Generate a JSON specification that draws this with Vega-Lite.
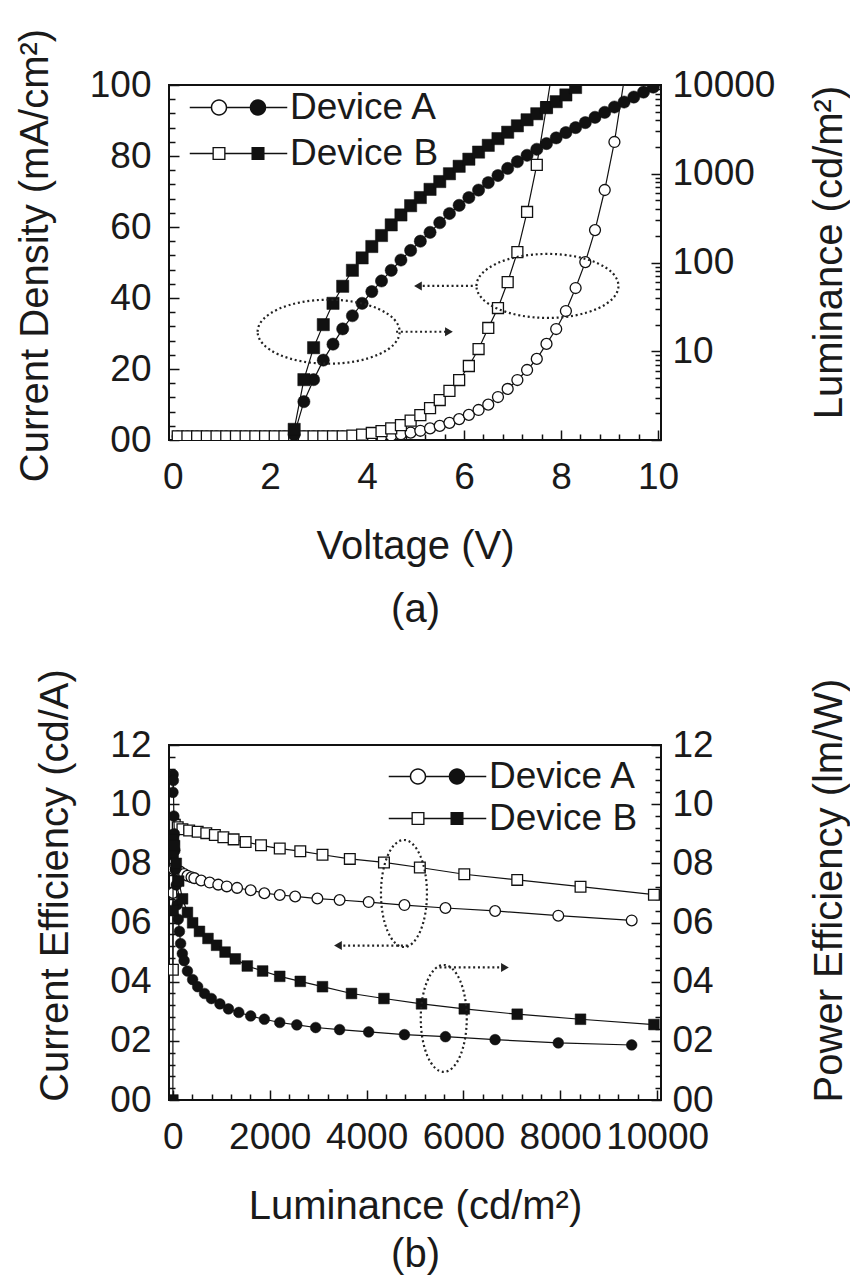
{
  "$schema": "https://vega.github.io/schema/vega-lite/v6.json",
  "background": "white",
  "padding": {"left": 14, "top": 27, "right": 0, "bottom": 0},
  "spacing": 37,
  "config": {
    "view": {"stroke": "#111", "strokeWidth": 2},
    "font": "Liberation Sans",
    "axis": {"grid": false, "domain": false, "labelFont": "Liberation Sans", "labelFontSize": 37, "labelColor": "#1a1a1a", "titleFont": "Liberation Sans", "titleFontSize": 40, "titleFontWeight": "normal", "titleColor": "#1a1a1a", "tickColor": "#111", "tickWidth": 1.5, "labelOverlap": false, "labelBound": false, "labelFlush": false}
  },
  "datasets": {
    "jv": [
      {"device": "Device A", "V": 2.5, "J": 1.5}, {"device": "Device A", "V": 2.7, "J": 10.8}, {"device": "Device A", "V": 2.9, "J": 17}, {"device": "Device A", "V": 3.1, "J": 22.5}, {"device": "Device A", "V": 3.3, "J": 27}, {"device": "Device A", "V": 3.5, "J": 31.3}, {"device": "Device A", "V": 3.7, "J": 35}, {"device": "Device A", "V": 3.9, "J": 38.5}, {"device": "Device A", "V": 4.1, "J": 41.8}, {"device": "Device A", "V": 4.3, "J": 44.8}, {"device": "Device A", "V": 4.5, "J": 47.8}, {"device": "Device A", "V": 4.7, "J": 50.7}, {"device": "Device A", "V": 4.9, "J": 53.4}, {"device": "Device A", "V": 5.1, "J": 56}, {"device": "Device A", "V": 5.3, "J": 58.5}, {"device": "Device A", "V": 5.5, "J": 61.2}, {"device": "Device A", "V": 5.7, "J": 63.8}, {"device": "Device A", "V": 5.9, "J": 66.1}, {"device": "Device A", "V": 6.1, "J": 68.3}, {"device": "Device A", "V": 6.3, "J": 70.4}, {"device": "Device A", "V": 6.5, "J": 72.5}, {"device": "Device A", "V": 6.7, "J": 74.5}, {"device": "Device A", "V": 6.9, "J": 76.5}, {"device": "Device A", "V": 7.1, "J": 78.4}, {"device": "Device A", "V": 7.3, "J": 80.2}, {"device": "Device A", "V": 7.5, "J": 81.9}, {"device": "Device A", "V": 7.7, "J": 83.5}, {"device": "Device A", "V": 7.9, "J": 85.1}, {"device": "Device A", "V": 8.1, "J": 86.6}, {"device": "Device A", "V": 8.3, "J": 88}, {"device": "Device A", "V": 8.5, "J": 89.4}, {"device": "Device A", "V": 8.7, "J": 90.9}, {"device": "Device A", "V": 8.9, "J": 92.3}, {"device": "Device A", "V": 9.1, "J": 93.8}, {"device": "Device A", "V": 9.3, "J": 95.2}, {"device": "Device A", "V": 9.5, "J": 96.6}, {"device": "Device A", "V": 9.7, "J": 98}, {"device": "Device A", "V": 9.9, "J": 99.4},
      {"device": "Device B", "V": 2.5, "J": 3}, {"device": "Device B", "V": 2.7, "J": 17}, {"device": "Device B", "V": 2.9, "J": 26}, {"device": "Device B", "V": 3.1, "J": 32.5}, {"device": "Device B", "V": 3.3, "J": 38.5}, {"device": "Device B", "V": 3.5, "J": 43.3}, {"device": "Device B", "V": 3.7, "J": 47.8}, {"device": "Device B", "V": 3.9, "J": 51.3}, {"device": "Device B", "V": 4.1, "J": 54.5}, {"device": "Device B", "V": 4.3, "J": 57.6}, {"device": "Device B", "V": 4.5, "J": 60.6}, {"device": "Device B", "V": 4.7, "J": 63.4}, {"device": "Device B", "V": 4.9, "J": 66}, {"device": "Device B", "V": 5.1, "J": 68.3}, {"device": "Device B", "V": 5.3, "J": 70.6}, {"device": "Device B", "V": 5.5, "J": 72.8}, {"device": "Device B", "V": 5.7, "J": 75}, {"device": "Device B", "V": 5.9, "J": 77.1}, {"device": "Device B", "V": 6.1, "J": 79.1}, {"device": "Device B", "V": 6.3, "J": 81.1}, {"device": "Device B", "V": 6.5, "J": 83}, {"device": "Device B", "V": 6.7, "J": 84.9}, {"device": "Device B", "V": 6.9, "J": 86.7}, {"device": "Device B", "V": 7.1, "J": 88.5}, {"device": "Device B", "V": 7.3, "J": 90.2}, {"device": "Device B", "V": 7.5, "J": 91.9}, {"device": "Device B", "V": 7.7, "J": 93.6}, {"device": "Device B", "V": 7.9, "J": 95.3}, {"device": "Device B", "V": 8.1, "J": 97.2}, {"device": "Device B", "V": 8.3, "J": 99.3}
    ],
    "lv": [
      {"device": "Device A", "V": 0.1, "L": 1.1}, {"device": "Device A", "V": 0.3, "L": 1.1}, {"device": "Device A", "V": 0.5, "L": 1.1}, {"device": "Device A", "V": 0.7, "L": 1.1}, {"device": "Device A", "V": 0.9, "L": 1.1}, {"device": "Device A", "V": 1.1, "L": 1.1}, {"device": "Device A", "V": 1.3, "L": 1.1}, {"device": "Device A", "V": 1.5, "L": 1.1}, {"device": "Device A", "V": 1.7, "L": 1.1}, {"device": "Device A", "V": 1.9, "L": 1.1}, {"device": "Device A", "V": 2.1, "L": 1.1}, {"device": "Device A", "V": 2.3, "L": 1.1}, {"device": "Device A", "V": 2.5, "L": 1.1}, {"device": "Device A", "V": 2.7, "L": 1.1}, {"device": "Device A", "V": 2.9, "L": 1.1}, {"device": "Device A", "V": 3.1, "L": 1.1}, {"device": "Device A", "V": 3.3, "L": 1.1}, {"device": "Device A", "V": 3.5, "L": 1.1}, {"device": "Device A", "V": 3.7, "L": 1.1}, {"device": "Device A", "V": 3.9, "L": 1.1}, {"device": "Device A", "V": 4.1, "L": 1.1}, {"device": "Device A", "V": 4.3, "L": 1.1}, {"device": "Device A", "V": 4.5, "L": 1.12}, {"device": "Device A", "V": 4.7, "L": 1.16}, {"device": "Device A", "V": 4.9, "L": 1.21}, {"device": "Device A", "V": 5.1, "L": 1.27}, {"device": "Device A", "V": 5.3, "L": 1.35}, {"device": "Device A", "V": 5.5, "L": 1.44}, {"device": "Device A", "V": 5.7, "L": 1.56}, {"device": "Device A", "V": 5.9, "L": 1.72}, {"device": "Device A", "V": 6.1, "L": 1.92}, {"device": "Device A", "V": 6.3, "L": 2.18}, {"device": "Device A", "V": 6.5, "L": 2.5}, {"device": "Device A", "V": 6.7, "L": 3.05}, {"device": "Device A", "V": 6.9, "L": 3.76}, {"device": "Device A", "V": 7.1, "L": 4.74}, {"device": "Device A", "V": 7.3, "L": 6.15}, {"device": "Device A", "V": 7.5, "L": 8.2}, {"device": "Device A", "V": 7.7, "L": 12.1}, {"device": "Device A", "V": 7.9, "L": 17.8}, {"device": "Device A", "V": 8.1, "L": 28.4}, {"device": "Device A", "V": 8.3, "L": 51.6}, {"device": "Device A", "V": 8.5, "L": 101}, {"device": "Device A", "V": 8.7, "L": 232}, {"device": "Device A", "V": 8.9, "L": 656}, {"device": "Device A", "V": 9.1, "L": 2280}, {"device": "Device A", "V": 9.3, "L": 11400},
      {"device": "Device B", "V": 0.1, "L": 1.1}, {"device": "Device B", "V": 0.3, "L": 1.1}, {"device": "Device B", "V": 0.5, "L": 1.1}, {"device": "Device B", "V": 0.7, "L": 1.1}, {"device": "Device B", "V": 0.9, "L": 1.1}, {"device": "Device B", "V": 1.1, "L": 1.1}, {"device": "Device B", "V": 1.3, "L": 1.1}, {"device": "Device B", "V": 1.5, "L": 1.1}, {"device": "Device B", "V": 1.7, "L": 1.1}, {"device": "Device B", "V": 1.9, "L": 1.1}, {"device": "Device B", "V": 2.1, "L": 1.1}, {"device": "Device B", "V": 2.3, "L": 1.1}, {"device": "Device B", "V": 2.5, "L": 1.1}, {"device": "Device B", "V": 2.7, "L": 1.1}, {"device": "Device B", "V": 2.9, "L": 1.1}, {"device": "Device B", "V": 3.1, "L": 1.1}, {"device": "Device B", "V": 3.3, "L": 1.1}, {"device": "Device B", "V": 3.5, "L": 1.1}, {"device": "Device B", "V": 3.7, "L": 1.12}, {"device": "Device B", "V": 3.9, "L": 1.15}, {"device": "Device B", "V": 4.1, "L": 1.2}, {"device": "Device B", "V": 4.3, "L": 1.26}, {"device": "Device B", "V": 4.5, "L": 1.35}, {"device": "Device B", "V": 4.7, "L": 1.47}, {"device": "Device B", "V": 4.9, "L": 1.65}, {"device": "Device B", "V": 5.1, "L": 1.91}, {"device": "Device B", "V": 5.3, "L": 2.29}, {"device": "Device B", "V": 5.5, "L": 2.82}, {"device": "Device B", "V": 5.7, "L": 3.57}, {"device": "Device B", "V": 5.9, "L": 4.74}, {"device": "Device B", "V": 6.1, "L": 6.82}, {"device": "Device B", "V": 6.3, "L": 10.6}, {"device": "Device B", "V": 6.5, "L": 18.3}, {"device": "Device B", "V": 6.7, "L": 30.7}, {"device": "Device B", "V": 6.9, "L": 60.2}, {"device": "Device B", "V": 7.1, "L": 131}, {"device": "Device B", "V": 7.3, "L": 371}, {"device": "Device B", "V": 7.5, "L": 1260}, {"device": "Device B", "V": 7.7, "L": 5650}, {"device": "Device B", "V": 7.9, "L": 28000}
    ],
    "ce": [
      {"device": "Device A", "lum": 3, "ce": 7.0}, {"device": "Device A", "lum": 15, "ce": 7.8}, {"device": "Device A", "lum": 60, "ce": 7.8}, {"device": "Device A", "lum": 150, "ce": 7.72}, {"device": "Device A", "lum": 232, "ce": 7.64}, {"device": "Device A", "lum": 301, "ce": 7.58}, {"device": "Device A", "lum": 383, "ce": 7.53}, {"device": "Device A", "lum": 443, "ce": 7.5}, {"device": "Device A", "lum": 584, "ce": 7.42}, {"device": "Device A", "lum": 760, "ce": 7.35}, {"device": "Device A", "lum": 937, "ce": 7.28}, {"device": "Device A", "lum": 1113, "ce": 7.22}, {"device": "Device A", "lum": 1326, "ce": 7.17}, {"device": "Device A", "lum": 1607, "ce": 7.09}, {"device": "Device A", "lum": 1889, "ce": 6.99}, {"device": "Device A", "lum": 2207, "ce": 6.93}, {"device": "Device A", "lum": 2525, "ce": 6.88}, {"device": "Device A", "lum": 2984, "ce": 6.81}, {"device": "Device A", "lum": 3443, "ce": 6.76}, {"device": "Device A", "lum": 4043, "ce": 6.69}, {"device": "Device A", "lum": 4782, "ce": 6.59}, {"device": "Device A", "lum": 5629, "ce": 6.49}, {"device": "Device A", "lum": 6654, "ce": 6.39}, {"device": "Device A", "lum": 7959, "ce": 6.23}, {"device": "Device A", "lum": 9475, "ce": 6.07},
      {"device": "Device B", "lum": 0, "ce": 4.4}, {"device": "Device B", "lum": 8, "ce": 9.35}, {"device": "Device B", "lum": 40, "ce": 9.3}, {"device": "Device B", "lum": 100, "ce": 9.22}, {"device": "Device B", "lum": 197, "ce": 9.15}, {"device": "Device B", "lum": 336, "ce": 9.11}, {"device": "Device B", "lum": 512, "ce": 9.07}, {"device": "Device B", "lum": 690, "ce": 9.02}, {"device": "Device B", "lum": 867, "ce": 8.96}, {"device": "Device B", "lum": 1043, "ce": 8.88}, {"device": "Device B", "lum": 1254, "ce": 8.81}, {"device": "Device B", "lum": 1502, "ce": 8.72}, {"device": "Device B", "lum": 1820, "ce": 8.61}, {"device": "Device B", "lum": 2207, "ce": 8.5}, {"device": "Device B", "lum": 2631, "ce": 8.41}, {"device": "Device B", "lum": 3090, "ce": 8.29}, {"device": "Device B", "lum": 3654, "ce": 8.15}, {"device": "Device B", "lum": 4359, "ce": 8.03}, {"device": "Device B", "lum": 5100, "ce": 7.86}, {"device": "Device B", "lum": 6018, "ce": 7.63}, {"device": "Device B", "lum": 7111, "ce": 7.44}, {"device": "Device B", "lum": 8418, "ce": 7.21}, {"device": "Device B", "lum": 9934, "ce": 6.94}
    ],
    "pe": [
      {"device": "Device A", "lum": 2, "pe": 10.4}, {"device": "Device A", "lum": 5, "pe": 11.0}, {"device": "Device A", "lum": 10, "pe": 10.8}, {"device": "Device A", "lum": 20, "pe": 9.6}, {"device": "Device A", "lum": 30, "pe": 9.0}, {"device": "Device A", "lum": 41, "pe": 8.43}, {"device": "Device A", "lum": 55, "pe": 7.8}, {"device": "Device A", "lum": 70, "pe": 7.27}, {"device": "Device A", "lum": 90, "pe": 6.6}, {"device": "Device A", "lum": 111, "pe": 6.11}, {"device": "Device A", "lum": 135, "pe": 5.7}, {"device": "Device A", "lum": 160, "pe": 5.29}, {"device": "Device A", "lum": 195, "pe": 4.95}, {"device": "Device A", "lum": 232, "pe": 4.71}, {"device": "Device A", "lum": 301, "pe": 4.36}, {"device": "Device A", "lum": 408, "pe": 4.07}, {"device": "Device A", "lum": 512, "pe": 3.83}, {"device": "Device A", "lum": 654, "pe": 3.6}, {"device": "Device A", "lum": 795, "pe": 3.43}, {"device": "Device A", "lum": 971, "pe": 3.25}, {"device": "Device A", "lum": 1148, "pe": 3.08}, {"device": "Device A", "lum": 1361, "pe": 2.96}, {"device": "Device A", "lum": 1607, "pe": 2.84}, {"device": "Device A", "lum": 1889, "pe": 2.73}, {"device": "Device A", "lum": 2207, "pe": 2.62}, {"device": "Device A", "lum": 2559, "pe": 2.54}, {"device": "Device A", "lum": 2949, "pe": 2.45}, {"device": "Device A", "lum": 3443, "pe": 2.38}, {"device": "Device A", "lum": 4043, "pe": 2.3}, {"device": "Device A", "lum": 4782, "pe": 2.21}, {"device": "Device A", "lum": 5629, "pe": 2.14}, {"device": "Device A", "lum": 6654, "pe": 2.04}, {"device": "Device A", "lum": 7959, "pe": 1.93}, {"device": "Device A", "lum": 9475, "pe": 1.86},
      {"device": "Device B", "lum": 0, "pe": 0}, {"device": "Device B", "lum": 2, "pe": 6.4}, {"device": "Device B", "lum": 6, "pe": 8.3}, {"device": "Device B", "lum": 15, "pe": 8.8}, {"device": "Device B", "lum": 35, "pe": 8.6}, {"device": "Device B", "lum": 70, "pe": 8.0}, {"device": "Device B", "lum": 120, "pe": 7.4}, {"device": "Device B", "lum": 200, "pe": 6.8}, {"device": "Device B", "lum": 301, "pe": 6.34}, {"device": "Device B", "lum": 408, "pe": 5.99}, {"device": "Device B", "lum": 549, "pe": 5.7}, {"device": "Device B", "lum": 725, "pe": 5.46}, {"device": "Device B", "lum": 902, "pe": 5.23}, {"device": "Device B", "lum": 1078, "pe": 5.0}, {"device": "Device B", "lum": 1289, "pe": 4.77}, {"device": "Device B", "lum": 1537, "pe": 4.53}, {"device": "Device B", "lum": 1854, "pe": 4.36}, {"device": "Device B", "lum": 2207, "pe": 4.18}, {"device": "Device B", "lum": 2631, "pe": 4.01}, {"device": "Device B", "lum": 3090, "pe": 3.83}, {"device": "Device B", "lum": 3689, "pe": 3.6}, {"device": "Device B", "lum": 4359, "pe": 3.43}, {"device": "Device B", "lum": 5135, "pe": 3.25}, {"device": "Device B", "lum": 6018, "pe": 3.08}, {"device": "Device B", "lum": 7111, "pe": 2.9}, {"device": "Device B", "lum": 8418, "pe": 2.73}, {"device": "Device B", "lum": 9934, "pe": 2.55}
    ],
    "devices": [{"device": "Device A"}, {"device": "Device B"}],
    "ellA": [{"V": 3.21, "J": 30.5}, {"V": 7.72, "J": 43.4}],
    "arrA": [{"V": 4.6, "V2": 5.69, "J": 30.5}, {"V": 6.18, "V2": 5.05, "J": 43.4}],
    "ellB": [{"lum": 4772, "pe": 6.98}, {"lum": 5594, "pe": 2.76}],
    "arrB": [{"lum": 4850, "lum2": 3409, "pe": 5.22}, {"lum": 5507, "lum2": 6857, "pe": 4.48}]
  },
  "vconcat": [
    {
      "width": 492,
      "height": 355,
      "layer": [
        {
          "layer": [
            {
              "data": {"name": "lv"},
              "mark": {"type": "line", "stroke": "#111", "strokeWidth": 1.2, "clip": true},
              "encoding": {
                "x": {"field": "V", "type": "quantitative", "scale": {"domain": [-0.08, 10.06], "nice": false, "zero": false},
                  "axis": {"orient": "bottom", "title": ["Voltage (V)", "(a)"], "values": [0, 2, 4, 6, 8, 10], "format": "d", "tickSize": -10, "labelPadding": 29, "titlePadding": 31, "titleLineHeight": 63}},
                "y": {"field": "L", "type": "quantitative", "scale": {"type": "log", "domain": [1, 10000], "nice": false},
                  "axis": {"orient": "right", "title": "Luminance (cd/m²)", "values": [1, 10, 100, 1000, 10000],
                    "labelExpr": "datum.value == 1 ? '' : format(datum.value, 'd')",
                    "tickSize": -10, "labelPadding": 21, "titleAngle": 270, "titleBaseline": "top", "titleX": 148, "titleY": 167}},
                "detail": {"field": "device"}
              }
            },
            {
              "data": {"name": "lv"},
              "mark": {"type": "point", "filled": true, "fill": "white", "stroke": "#111", "strokeWidth": 1.3, "size": 120, "opacity": 1, "clip": true},
              "encoding": {
                "x": {"field": "V", "type": "quantitative"},
                "y": {"field": "L", "type": "quantitative"},
                "shape": {"field": "device", "type": "nominal", "scale": {"domain": ["Device A", "Device B"], "range": ["circle", "square"]}, "legend": null}
              }
            }
          ]
        },
        {
          "layer": [
            {
              "data": {"name": "jv"},
              "mark": {"type": "line", "stroke": "#111", "strokeWidth": 1.2, "clip": true},
              "encoding": {
                "x": {"field": "V", "type": "quantitative", "scale": {"domain": [-0.08, 10.06], "nice": false, "zero": false}, "axis": null},
                "y": {"field": "J", "type": "quantitative", "scale": {"domain": [0, 100], "nice": false},
                  "axis": {"orient": "left", "title": "Current Density (mA/cm²)", "values": [0, 20, 40, 60, 80, 100],
                    "labelExpr": "datum.value == 0 ? '00' : format(datum.value, 'd')",
                    "tickSize": -10, "labelPadding": 28, "titlePadding": 34, "titleY": 170}},
                "detail": {"field": "device"}
              }
            },
            {
              "data": {"name": "jv"},
              "mark": {"type": "point", "filled": true, "fill": "#111", "stroke": "#111", "strokeWidth": 0.5, "size": 150, "opacity": 1, "clip": true},
              "encoding": {
                "x": {"field": "V", "type": "quantitative", "axis": null},
                "y": {"field": "J", "type": "quantitative"},
                "shape": {"field": "device", "type": "nominal", "scale": {"domain": ["Device A", "Device B"], "range": ["circle", "square"]}, "legend": null}
              }
            },
            {
              "data": {"name": "ellA"},
              "mark": {"type": "point", "shape": "M-71,0A71,32,0,1,1,71,0A71,32,0,1,1,-71,0Z", "size": 4, "filled": false, "stroke": "#222", "strokeWidth": 2.2, "strokeDash": [2, 2.8], "opacity": 1},
              "encoding": {"x": {"field": "V", "type": "quantitative", "axis": null}, "y": {"field": "J", "type": "quantitative"}}
            },
            {
              "data": {"name": "arrA"},
              "mark": {"type": "rule", "stroke": "#222", "strokeWidth": 2.2, "strokeDash": [2, 2.8]},
              "encoding": {"x": {"field": "V", "type": "quantitative", "axis": null}, "x2": {"field": "V2"}, "y": {"field": "J", "type": "quantitative"}}
            },
            {
              "data": {"name": "arrA"},
              "transform": [{"filter": "datum.V2 > datum.V"}],
              "mark": {"type": "point", "shape": "triangle-right", "filled": true, "fill": "#222", "strokeWidth": 0, "size": 80, "opacity": 1},
              "encoding": {"x": {"field": "V2", "type": "quantitative", "axis": null}, "y": {"field": "J", "type": "quantitative"}}
            },
            {
              "data": {"name": "arrA"},
              "transform": [{"filter": "datum.V2 < datum.V"}],
              "mark": {"type": "point", "shape": "triangle-left", "filled": true, "fill": "#222", "strokeWidth": 0, "size": 80, "opacity": 1},
              "encoding": {"x": {"field": "V2", "type": "quantitative", "axis": null}, "y": {"field": "J", "type": "quantitative"}}
            }
          ]
        },
        {
          "data": {"name": "devices"},
          "mark": {"type": "point", "opacity": 0},
          "encoding": {
            "x": {"datum": 5, "type": "quantitative", "scale": {"domain": [-0.08, 10.06], "nice": false, "zero": false},
              "axis": {"orient": "bottom", "title": null, "labels": false, "tickSize": -6, "values": [0.4,0.8,1.2,1.6,2.4,2.8,3.2,3.6,4.4,4.8,5.2,5.6,6.4,6.8,7.2,7.6,8.4,8.8,9.2,9.6]}},
            "y": {"datum": 50, "type": "quantitative", "scale": {"domain": [0, 100], "nice": false},
              "axis": {"orient": "left", "title": null, "labels": false, "tickSize": -6, "values": [4,8,12,16,24,28,32,36,44,48,52,56,64,68,72,76,84,88,92,96]}}
          }
        },
        {
          "data": {"name": "devices"},
          "mark": {"type": "point", "opacity": 0},
          "encoding": {
            "y": {"datum": 100, "type": "quantitative", "scale": {"type": "log", "domain": [1, 10000], "nice": false},
              "axis": {"orient": "right", "title": null, "labels": false, "tickSize": -6, "values": [2,3,4,5,6,7,8,9,20,30,40,50,60,70,80,90,200,300,400,500,600,700,800,900,2000,3000,4000,5000,6000,7000,8000,9000]}}
          }
        },
        {
          "data": {"name": "devices"},
          "mark": {"type": "point", "filled": true, "fill": "#111", "strokeWidth": 0, "opacity": 0, "size": 225},
          "encoding": {
            "shape": {"field": "device", "type": "nominal",
              "scale": {"domain": ["Device A", "Device B"], "range": ["M-6.5,-0.1H-3.7V0.1H-6.5Z M-1.5,-0.1H1.5V0.1H-1.5Z M3.7,-0.1H6.5V0.1H3.7Z M-3.7,0A1.1,1.1,0,1,1,-1.5,0A1.1,1.1,0,1,1,-3.7,0Z M-3.5,0A0.9,0.9,0,1,0,-1.7,0A0.9,0.9,0,1,0,-3.5,0Z M1.5,0A1.1,1.1,0,1,1,3.7,0A1.1,1.1,0,1,1,1.5,0Z", "M-6.5,-0.1H-3.47V0.1H-6.5Z M-1.73,-0.1H1.73V0.1H-1.73Z M3.47,-0.1H6.5V0.1H3.47Z M-3.47,-0.87H-1.73V0.87H-3.47Z M-3.29,-0.69V0.69H-1.91V-0.69Z M1.73,-0.87H3.47V0.87H1.73Z"]},
              "legend": {"title": null, "orient": "none", "legendX": 51, "legendY": 4, "padding": 0, "symbolSize": 225, "symbolOpacity": 1, "symbolFillColor": "#111", "symbolStrokeWidth": 0, "labelFontSize": 37, "labelFont": "Liberation Sans", "labelColor": "#1a1a1a", "labelOffset": 33, "rowPadding": 8, "labelLimit": 400}}
          }
        }
      ],
      "resolve": {"scale": {"x": "independent", "y": "independent", "shape": "independent"}}
    },
    {
      "width": 492,
      "height": 355,
      "layer": [
        {
          "layer": [
            {
              "data": {"name": "ce"},
              "mark": {"type": "line", "stroke": "#111", "strokeWidth": 1.2, "clip": true},
              "encoding": {
                "x": {"field": "lum", "type": "quantitative", "scale": {"domain": [-80, 10080], "nice": false, "zero": false},
                  "axis": {"orient": "bottom", "title": ["Luminance (cd/m²)", "(b)"], "values": [0, 2000, 4000, 6000, 8000, 10000], "format": "d", "tickSize": -10, "labelPadding": 29, "titlePadding": 31, "titleLineHeight": 48}},
                "y": {"field": "ce", "type": "quantitative", "scale": {"domain": [0, 12], "nice": false},
                  "axis": {"orient": "left", "title": "Current Efficiency (cd/A)", "values": [0, 2, 4, 6, 8, 10, 12],
                    "labelExpr": "datum.value < 10 ? '0' + format(datum.value, 'd') : format(datum.value, 'd')",
                    "tickSize": -10, "labelPadding": 28, "titlePadding": 34, "titleY": 140}},
                "detail": {"field": "device"}
              }
            },
            {
              "data": {"name": "ce"},
              "mark": {"type": "point", "filled": true, "fill": "white", "stroke": "#111", "strokeWidth": 1.3, "size": 115, "opacity": 1, "clip": true},
              "encoding": {
                "x": {"field": "lum", "type": "quantitative"},
                "y": {"field": "ce", "type": "quantitative"},
                "shape": {"field": "device", "type": "nominal", "scale": {"domain": ["Device A", "Device B"], "range": ["circle", "square"]}, "legend": null}
              }
            }
          ]
        },
        {
          "layer": [
            {
              "data": {"name": "pe"},
              "mark": {"type": "line", "stroke": "#111", "strokeWidth": 1.2, "clip": true},
              "encoding": {
                "x": {"field": "lum", "type": "quantitative", "scale": {"domain": [-80, 10080], "nice": false, "zero": false}, "axis": null},
                "y": {"field": "pe", "type": "quantitative", "scale": {"domain": [0, 12], "nice": false},
                  "axis": {"orient": "right", "title": "Power Efficiency (lm/W)", "values": [0, 2, 4, 6, 8, 10, 12],
                    "labelExpr": "datum.value < 10 ? '0' + format(datum.value, 'd') : format(datum.value, 'd')",
                    "tickSize": -10, "labelPadding": 21, "titleAngle": 270, "titleBaseline": "top", "titleX": 148, "titleY": 145}},
                "detail": {"field": "device"}
              }
            },
            {
              "data": {"name": "pe"},
              "mark": {"type": "point", "filled": true, "fill": "#111", "stroke": "#111", "strokeWidth": 0.5, "size": 115, "opacity": 1, "clip": true},
              "encoding": {
                "x": {"field": "lum", "type": "quantitative", "axis": null},
                "y": {"field": "pe", "type": "quantitative"},
                "shape": {"field": "device", "type": "nominal", "scale": {"domain": ["Device A", "Device B"], "range": ["circle", "square"]}, "legend": null}
              }
            },
            {
              "data": {"name": "ellB"},
              "mark": {"type": "point", "shape": "M-23,0A23,53.5,0,1,1,23,0A23,53.5,0,1,1,-23,0Z", "size": 4, "filled": false, "stroke": "#222", "strokeWidth": 2.2, "strokeDash": [2, 2.8], "opacity": 1},
              "encoding": {"x": {"field": "lum", "type": "quantitative", "axis": null}, "y": {"field": "pe", "type": "quantitative"}}
            },
            {
              "data": {"name": "arrB"},
              "mark": {"type": "rule", "stroke": "#222", "strokeWidth": 2.2, "strokeDash": [2, 2.8]},
              "encoding": {"x": {"field": "lum", "type": "quantitative", "axis": null}, "x2": {"field": "lum2"}, "y": {"field": "pe", "type": "quantitative"}}
            },
            {
              "data": {"name": "arrB"},
              "transform": [{"filter": "datum.lum2 > datum.lum"}],
              "mark": {"type": "point", "shape": "triangle-right", "filled": true, "fill": "#222", "strokeWidth": 0, "size": 80, "opacity": 1},
              "encoding": {"x": {"field": "lum2", "type": "quantitative", "axis": null}, "y": {"field": "pe", "type": "quantitative"}}
            },
            {
              "data": {"name": "arrB"},
              "transform": [{"filter": "datum.lum2 < datum.lum"}],
              "mark": {"type": "point", "shape": "triangle-left", "filled": true, "fill": "#222", "strokeWidth": 0, "size": 80, "opacity": 1},
              "encoding": {"x": {"field": "lum2", "type": "quantitative", "axis": null}, "y": {"field": "pe", "type": "quantitative"}}
            }
          ]
        },
        {
          "data": {"name": "devices"},
          "mark": {"type": "point", "opacity": 0},
          "encoding": {
            "x": {"datum": 5000, "type": "quantitative", "scale": {"domain": [-80, 10080], "nice": false, "zero": false},
              "axis": {"orient": "bottom", "title": null, "labels": false, "tickSize": -6, "values": [400,800,1200,1600,2400,2800,3200,3600,4400,4800,5200,5600,6400,6800,7200,7600,8400,8800,9200,9600]}},
            "y": {"datum": 6, "type": "quantitative", "scale": {"domain": [0, 12], "nice": false},
              "axis": {"orient": "left", "title": null, "labels": false, "tickSize": -6, "values": [0.4,0.8,1.2,1.6,2.4,2.8,3.2,3.6,4.4,4.8,5.2,5.6,6.4,6.8,7.2,7.6,8.4,8.8,9.2,9.6,10.4,10.8,11.2,11.6]}}
          }
        },
        {
          "data": {"name": "devices"},
          "mark": {"type": "point", "opacity": 0},
          "encoding": {
            "y": {"datum": 6, "type": "quantitative", "scale": {"domain": [0, 12], "nice": false},
              "axis": {"orient": "right", "title": null, "labels": false, "tickSize": -6, "values": [0.4,0.8,1.2,1.6,2.4,2.8,3.2,3.6,4.4,4.8,5.2,5.6,6.4,6.8,7.2,7.6,8.4,8.8,9.2,9.6,10.4,10.8,11.2,11.6]}}
          }
        },
        {
          "data": {"name": "devices"},
          "mark": {"type": "point", "filled": true, "fill": "#111", "strokeWidth": 0, "opacity": 0, "size": 225},
          "encoding": {
            "shape": {"field": "device", "type": "nominal",
              "scale": {"domain": ["Device A", "Device B"], "range": ["M-6.5,-0.1H-3.7V0.1H-6.5Z M-1.5,-0.1H1.5V0.1H-1.5Z M3.7,-0.1H6.5V0.1H3.7Z M-3.7,0A1.1,1.1,0,1,1,-1.5,0A1.1,1.1,0,1,1,-3.7,0Z M-3.5,0A0.9,0.9,0,1,0,-1.7,0A0.9,0.9,0,1,0,-3.5,0Z M1.5,0A1.1,1.1,0,1,1,3.7,0A1.1,1.1,0,1,1,1.5,0Z", "M-6.5,-0.1H-3.47V0.1H-6.5Z M-1.73,-0.1H1.73V0.1H-1.73Z M3.47,-0.1H6.5V0.1H3.47Z M-3.47,-0.87H-1.73V0.87H-3.47Z M-3.29,-0.69V0.69H-1.91V-0.69Z M1.73,-0.87H3.47V0.87H1.73Z"]},
              "legend": {"title": null, "orient": "none", "legendX": 250, "legendY": 13, "padding": 0, "symbolSize": 225, "symbolOpacity": 1, "symbolFillColor": "#111", "symbolStrokeWidth": 0, "labelFontSize": 37, "labelFont": "Liberation Sans", "labelColor": "#1a1a1a", "labelOffset": 33, "rowPadding": 4, "labelLimit": 400}}
          }
        }
      ],
      "resolve": {"scale": {"x": "independent", "y": "independent", "shape": "independent"}}
    }
  ]
}
